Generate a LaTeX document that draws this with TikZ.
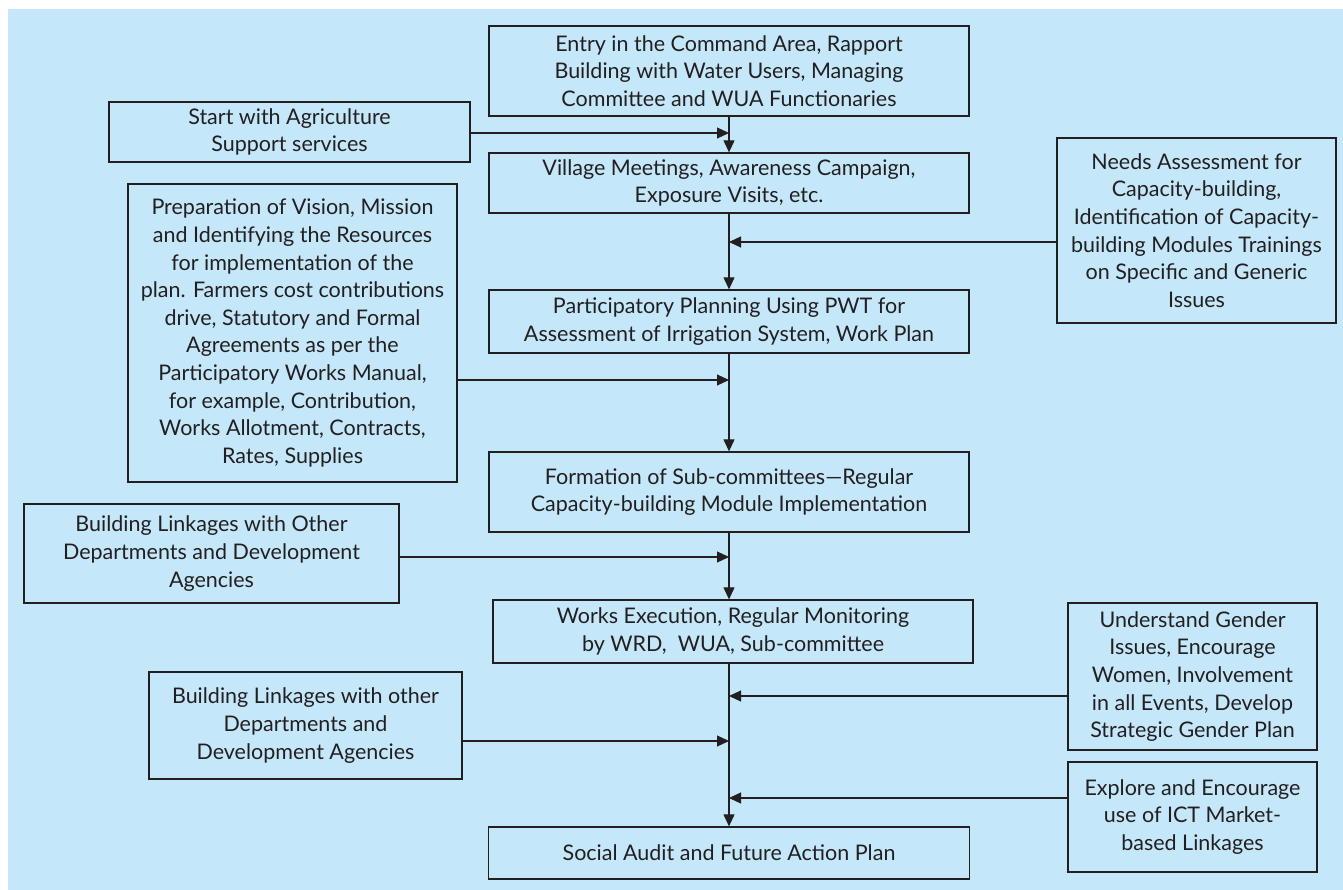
\documentclass[tikz,border=0pt]{standalone}
\usepackage{fontspec}
\setmainfont{Lato}
\usetikzlibrary{arrows.meta}
\definecolor{panel}{RGB}{196,232,249}
\definecolor{ink}{RGB}{35,31,32}
\begin{document}
\begin{tikzpicture}[x=1pt,y=-1pt,
  box/.style={draw=ink, line width=1.3pt, fill=panel, text=ink, inner sep=0pt,
    align=center, font=\fontsize{21.5}{27.6}\selectfont},
  flow/.style={draw=ink, line width=1.1pt, -{Triangle[length=12pt,width=11pt]}}]
\useasboundingbox (0,0) rectangle (1343,890);
\fill[white] (0,0) rectangle (1343,890);
\fill[panel] (8,9) rectangle (1343,890);

% main column
\node[box, minimum width=480pt, minimum height=90pt] (entry) at (729,71)
  {Entry in the Command Area, Rapport\\Building with Water Users, Managing\\Committee and WUA Functionaries};
\node[box, minimum width=480pt, minimum height=60pt] (village) at (729,183)
  {Village Meetings, Awareness Campaign,\\Exposure Visits, etc.};
\node[box, minimum width=480pt, minimum height=63pt] (plan) at (729,321.5)
  {Participatory Planning Using PWT for\\Assessment of Irrigation System, Work Plan};
\node[box, minimum width=480pt, minimum height=80pt] (subc) at (729,492)
  {Formation of Sub-committees—Regular\\Capacity-building Module Implementation};
\node[box, minimum width=480pt, minimum height=63pt] (works) at (733,631.5)
  {Works Execution, Regular Monitoring\\by WRD,\ \ WUA, Sub-committee};
\node[box, minimum width=481pt, minimum height=52pt] (audit) at (729,853)
  {Social Audit and Future Action Plan};

% side inputs
\node[box, minimum width=361pt, minimum height=60pt] (agri) at (289.5,132)
  {Start with Agriculture\\Support services};
\node[box, minimum width=279pt, minimum height=185pt] (needs) at (1196.5,230.5)
  {Needs Assessment for\\Capacity-building,\\Identification of Capacity-\\building Modules Trainings\\on Specific and Generic\\Issues};
\node[box, minimum width=329pt, minimum height=298pt] (vision) at (292.5,333)
  {Preparation of Vision, Mission\\and Identifying the Resources\\for implementation of the\\plan. Farmers cost contributions\\drive, Statutory and Formal\\Agreements as per the\\Participatory Works Manual,\\for example, Contribution,\\Works Allotment, Contracts,\\Rates, Supplies};
\node[box, minimum width=375pt, minimum height=99pt] (linkA) at (211.5,553.5)
  {Building Linkages with Other\\Departments and Development\\Agencies};
\node[box, minimum width=249pt, minimum height=147pt] (gender) at (1192.5,676.5)
  {Understand Gender\\Issues, Encourage\\Women, Involvement\\in all Events, Develop\\Strategic Gender Plan};
\node[box, minimum width=313pt, minimum height=107pt] (linkB) at (305.5,725.5)
  {Building Linkages with other\\Departments and\\Development Agencies};
\node[box, minimum width=249pt, minimum height=110pt] (ict) at (1192.5,817)
  {Explore and Encourage\\use of ICT Market-\\based Linkages};

% junctions on the main line
\coordinate (jAgri) at (729,133);
\coordinate (jNeeds) at (729,242);
\coordinate (jVision) at (729,380);
\coordinate (jLinkA) at (729,557);
\coordinate (jGender) at (729,696);
\coordinate (jLinkB) at (729,741);
\coordinate (jIct) at (729,798);

% vertical flow
\draw[flow] (entry.south) -- (village.north);
\draw[flow] (village.south) -- (plan.north);
\draw[flow] (plan.south) -- (subc.north);
\draw[flow] (subc.south) -- (subc.south |- works.north);
\draw[flow] (works.south -| audit.south) -- (audit.north);

% horizontal inputs
\draw[flow] (agri.east |- jAgri) -- (jAgri);
\draw[flow] (needs.west |- jNeeds) -- (jNeeds);
\draw[flow] (vision.east |- jVision) -- (jVision);
\draw[flow] (linkA.east |- jLinkA) -- (jLinkA);
\draw[flow] (gender.west |- jGender) -- (jGender);
\draw[flow] (linkB.east |- jLinkB) -- (jLinkB);
\draw[flow] (ict.west |- jIct) -- (jIct);
\end{tikzpicture}
\end{document}
